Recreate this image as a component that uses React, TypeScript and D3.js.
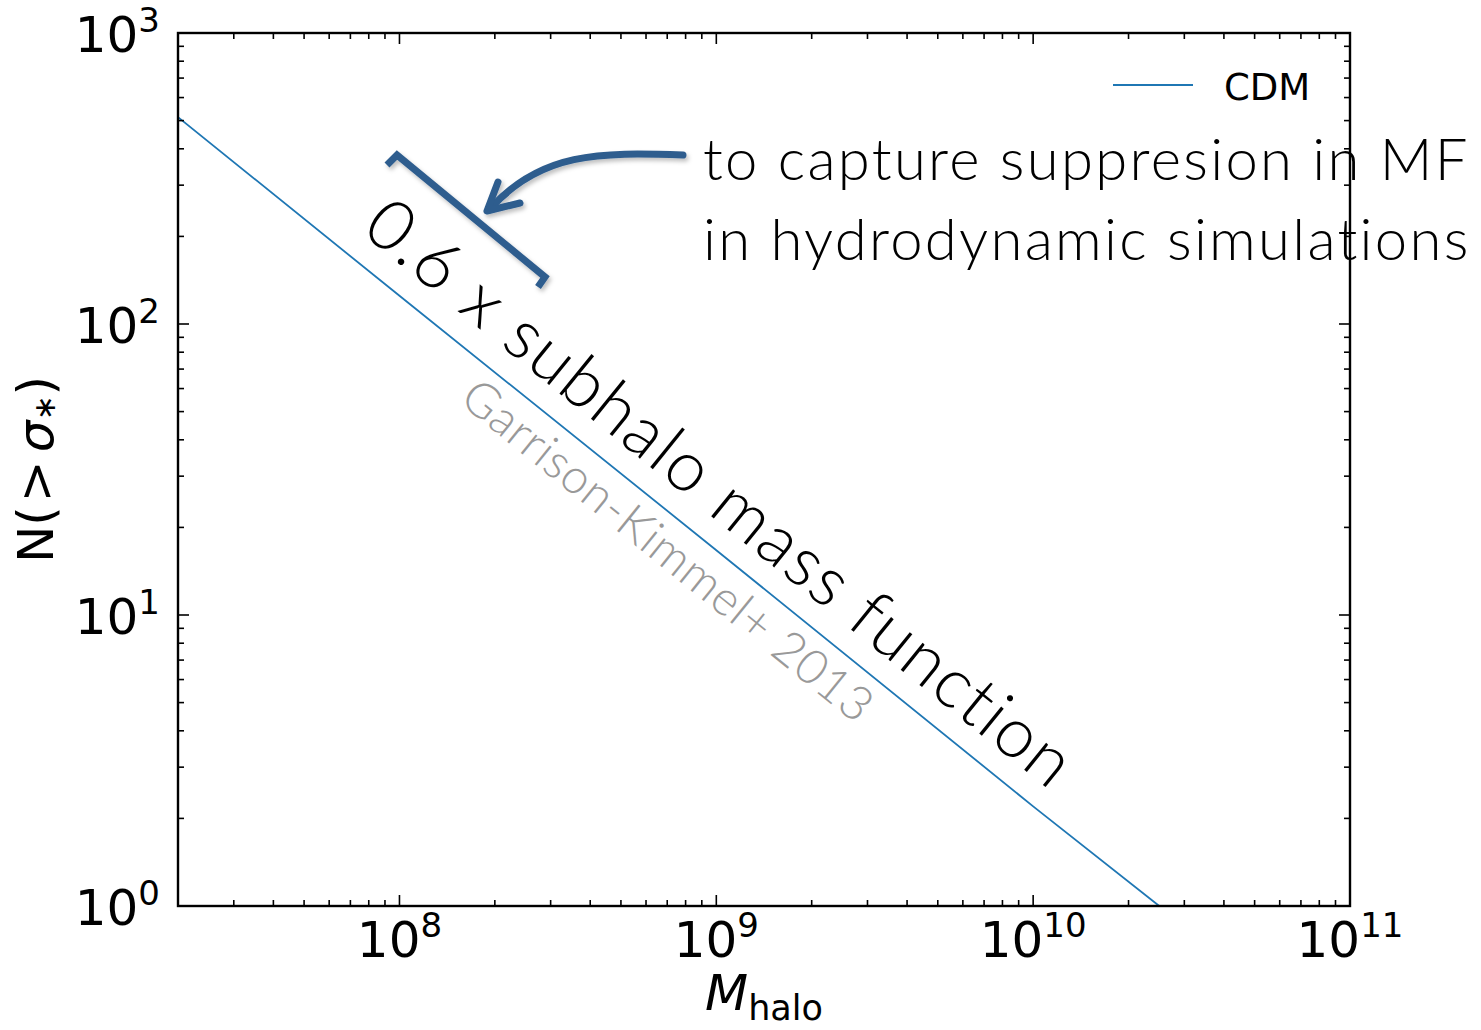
import React from "react";
import * as d3 from "d3";

// ---- data ----
const massHalo = [2e7, 1e8, 1e9, 1e10, 2.5e10];
const nSat = [514, 125, 16.7, 2.2, 1.0];
const xMajor = [1e8, 1e9, 1e10, 1e11];
const xMajorExp = ["8", "9", "10", "11"];
const yMajor = [1, 10, 100, 1000];
const yMajorExp = ["0", "1", "2", "3"];
const legendLabel = "CDM";
const annotLine1 = "to capture suppresion in MF";
const annotLine2 = "in hydrodynamic simulations";
const bigLabel = "0.6 x subhalo mass function";
const refLabel = "Garrison-Kimmel+ 2013";

const W = 1481;
const H = 1030;
const M = { left: 178, right: 1350, top: 33, bottom: 906 };
const LINE = "#1f77b4";
const ARROW = "#2f5d8e";
const TICKFONT = "'DejaVu Sans', sans-serif";
const GILL = "Lato, 'Open Sans', sans-serif";

export default function App() {
  const x = d3.scaleLog().domain([2e7, 1e11]).range([M.left, M.right]);
  const y = d3.scaleLog().domain([1, 1000]).range([M.bottom, M.top]);

  const minorX: number[] = [];
  for (let e = 7; e <= 10; e++) for (let k = 2; k <= 9; k++) {
    const v = k * Math.pow(10, e);
    if (v >= 2e7 && v <= 1e11) minorX.push(v);
  }
  const minorY: number[] = [];
  for (let e = 0; e <= 2; e++) for (let k = 2; k <= 9; k++) minorY.push(k * Math.pow(10, e));

  const line = d3
    .line<number>()
    .x((_, i) => x(massHalo[i]))
    .y((d) => y(d));

  const maj = 11;
  const mnr = 6;

  return (
    <svg
      width={W}
      height={H}
      style={{ position: "absolute", left: 0, top: 0, background: "#fff" }}
    >
      <defs>
        <filter id="shadow" x="-20%" y="-20%" width="140%" height="140%">
          <feDropShadow dx="2" dy="3" stdDeviation="2" floodColor="#000" floodOpacity="0.25" />
        </filter>
        <clipPath id="plotclip">
          <rect x={M.left} y={M.top} width={M.right - M.left} height={M.bottom - M.top} />
        </clipPath>
      </defs>

      {/* data line */}
      <path d={line(nSat) || ""} fill="none" stroke={LINE} strokeWidth={1.8} clipPath="url(#plotclip)" />

      {/* ticks */}
      <g stroke="#000" strokeWidth={1.6}>
        {xMajor.map((v) => (
          <g key={"xm" + v}>
            <line x1={x(v)} x2={x(v)} y1={M.bottom} y2={M.bottom - maj} />
            <line x1={x(v)} x2={x(v)} y1={M.top} y2={M.top + maj} />
          </g>
        ))}
        {minorX.map((v) => (
          <g key={"xn" + v}>
            <line x1={x(v)} x2={x(v)} y1={M.bottom} y2={M.bottom - mnr} />
            <line x1={x(v)} x2={x(v)} y1={M.top} y2={M.top + mnr} />
          </g>
        ))}
        {yMajor.map((v) => (
          <g key={"ym" + v}>
            <line x1={M.left} x2={M.left + maj} y1={y(v)} y2={y(v)} />
            <line x1={M.right} x2={M.right - maj} y1={y(v)} y2={y(v)} />
          </g>
        ))}
        {minorY.map((v) => (
          <g key={"yn" + v}>
            <line x1={M.left} x2={M.left + mnr} y1={y(v)} y2={y(v)} />
            <line x1={M.right} x2={M.right - mnr} y1={y(v)} y2={y(v)} />
          </g>
        ))}
      </g>

      {/* frame */}
      <rect
        x={M.left}
        y={M.top}
        width={M.right - M.left}
        height={M.bottom - M.top}
        fill="none"
        stroke="#000"
        strokeWidth={2.4}
      />

      {/* tick labels */}
      <g fontFamily={TICKFONT} fill="#000">
        {xMajor.map((v, i) => (
          <text key={"xl" + v} x={x(v)} y={M.bottom + 51} textAnchor="middle" fontSize={50}>
            <tspan>10</tspan>
            <tspan dy={-20} fontSize={34}>{xMajorExp[i]}</tspan>
          </text>
        ))}
        {yMajor.map((v, i) => (
          <text key={"yl" + v} x={M.left - 18} y={y(v) + 19} textAnchor="end" fontSize={50}>
            <tspan>10</tspan>
            <tspan dy={-20} fontSize={34}>{yMajorExp[i]}</tspan>
          </text>
        ))}
      </g>

      {/* axis labels */}
      <text
        x={(M.left + M.right) / 2}
        y={1010}
        textAnchor="middle"
        fontFamily={TICKFONT}
        fontSize={50}
      >
        <tspan fontStyle="italic">M</tspan>
        <tspan dy={10} fontSize={35}>halo</tspan>
      </text>
      <text
        transform={`translate(53, ${(M.top + M.bottom) / 2}) rotate(-90)`}
        textAnchor="middle"
        fontFamily={TICKFONT}
        fontSize={50}
      >
        <tspan>N(</tspan>
        <tspan dx={4}>&gt;</tspan>
        <tspan dx={8} fontStyle="italic">σ</tspan>
        <tspan dy={2} fontSize={30}>∗</tspan>
        <tspan dy={-2}>)</tspan>
      </text>

      {/* legend */}
      <line x1={1113} x2={1193} y1={85} y2={85} stroke={LINE} strokeWidth={1.8} />
      <text x={1224} y={100} fontFamily={TICKFONT} fontSize={37}>
        {legendLabel}
      </text>

      {/* annotation text */}
      <g fontFamily={GILL} fontWeight={300} fill="#000" fontSize={58} letterSpacing={2.3}>
        <text x={703} y={180}>{annotLine1}</text>
        <text x={703} y={260}>{annotLine2}</text>
      </g>

      {/* rotated labels */}
      <text
        transform="translate(360, 232) rotate(39)"
        fontFamily={GILL}
        fontWeight={300}
        fontSize={70}
        letterSpacing={1.8}
        fill="#000"
      >
        {bigLabel}
      </text>
      <text
        transform="translate(458, 402) rotate(39)"
        fontFamily={GILL}
        fontWeight={300}
        fontSize={48}
        letterSpacing={0.6}
        fill="#999"
      >
        {refLabel}
      </text>

      {/* bracket and arrow */}
      <g filter="url(#shadow)" stroke={ARROW} fill="none" strokeWidth={7}>
        <polyline points="387,165 397,155 545,277 538,287" strokeLinejoin="miter" strokeLinecap="butt" />
        <path d="M683,155 C600,152 540,152 489,210" strokeLinecap="round" />
        <polyline points="498,182 487,211 520,203" strokeLinecap="round" strokeLinejoin="round" />
      </g>
    </svg>
  );
}
